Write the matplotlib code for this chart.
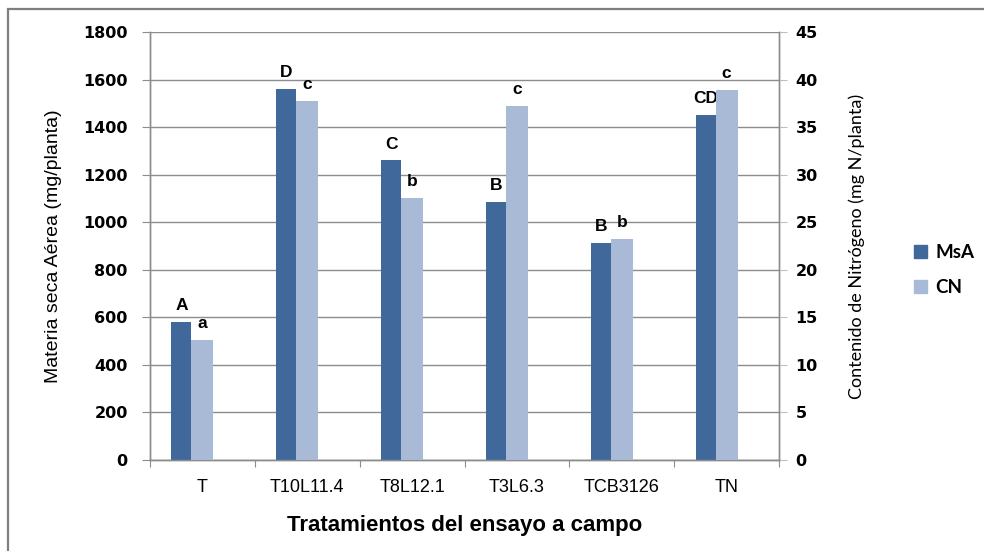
import matplotlib
matplotlib.use('Agg')
import matplotlib.pyplot as plt
import numpy as np
from matplotlib.patches import Rectangle, Patch

# treatment names and measured values
tratamientos = ['T', 'T10L11.4', 'T8L12.1', 'T3L6.3', 'TCB3126', 'TN']
msa = [580, 1560, 1260, 1085, 913, 1450]          # mg/planta
cn = [12.6, 37.7, 27.5, 37.2, 23.2, 38.9]          # mg N/planta
letras_msa = ['A', 'D', 'C', 'B', 'B', 'CD']
letras_cn = ['a', 'c', 'b', 'c', 'b', 'c']

col_msa = '#40689b'
col_cn = '#a9bad6'
gris = '#8c8c8c'

fig = plt.figure(figsize=(9.84, 5.51), dpi=100)

# outer frame of the chart area
fig.patches.append(Rectangle((8 / 984, -0.1), 1.2, 1.1 - 9 / 551,
                             transform=fig.transFigure, fill=False,
                             edgecolor='#7f7f7f', linewidth=1.6))

ax = fig.add_axes([150 / 984, 1 - 460 / 551, 629 / 984, 428 / 551])
ax2 = ax.twinx()

x = np.arange(len(tratamientos))
ax.bar(x - 0.2, msa, width=0.19, color=col_msa, zorder=3)
ax2.bar(x, cn, width=0.21, color=col_cn, zorder=3)

ax.set_xlim(-0.5, len(tratamientos) - 0.5)
ax.set_ylim(0, 1800)
ax2.set_ylim(0, 45)
ax.set_yticks(np.arange(0, 1801, 200))
ax2.set_yticks(np.arange(0, 46, 5))

ax.yaxis.grid(True, color=gris, linewidth=1.0, zorder=0)
ax.set_axisbelow(True)

# category labels between boundary ticks
ax.set_xticks(np.arange(-0.5, len(tratamientos), 1.0))
ax.set_xticklabels([])
ax.set_xticks(x, minor=True)
ax.set_xticklabels(tratamientos, minor=True, fontfamily='Liberation Sans',
                   fontsize=13)
ax.tick_params(axis='x', which='major', length=5, color=gris, direction='out')
ax.tick_params(axis='x', which='minor', length=0, pad=14)

for a in (ax, ax2):
    a.spines['top'].set_visible(False)
    for s in ('left', 'right', 'bottom'):
        a.spines[s].set_color(gris)
        a.spines[s].set_linewidth(1.0)

ax.tick_params(axis='y', length=6, color=gris, pad=10)
ax2.tick_params(axis='y', length=6, color='#c0c0c0', pad=6)
for lab in ax.get_yticklabels() + ax2.get_yticklabels():
    lab.set_fontfamily('DejaVu Sans')
    lab.set_fontweight('bold')
    lab.set_fontsize(11.5)

ax.set_ylabel('Materia seca Aérea (mg/planta)', fontfamily='Liberation Sans',
              fontsize=14)
ax2.set_ylabel('Contenido de Nitrógeno (mg N/planta)', fontfamily='Lato',
               fontsize=13)
ax.yaxis.set_label_coords(-0.14, 0.5)
ax2.yaxis.set_label_coords(1.11, 0.5)
ax.set_xlabel('Tratamientos del ensayo a campo', fontfamily='Liberation Sans',
              fontweight='bold', fontsize=16, labelpad=13)

# significance letters over each bar
for i in range(len(tratamientos)):
    ax.annotate(letras_msa[i], (x[i] - 0.2, msa[i]), xytext=(0, 8.5),
                textcoords='offset points', ha='center', va='baseline',
                fontfamily='Liberation Sans', fontweight='bold', fontsize=12.5)
    ax2.annotate(letras_cn[i], (x[i], cn[i]), xytext=(0, 9),
                 textcoords='offset points', ha='center', va='baseline',
                 fontfamily='Liberation Sans', fontweight='bold', fontsize=12.5)

handles = [Patch(color=col_msa, label='MsA'), Patch(color=col_cn, label='CN')]
leg = fig.legend(handles=handles, loc='center left',
                 bbox_to_anchor=(897 / 984, 1 - 270 / 551), frameon=False,
                 handlelength=0.7, handleheight=0.7, handletextpad=0.45,
                 labelspacing=1.0, prop={'family': 'Lato', 'weight': 'bold',
                                         'size': 13.5})

fig.savefig('out.png', dpi=100)
